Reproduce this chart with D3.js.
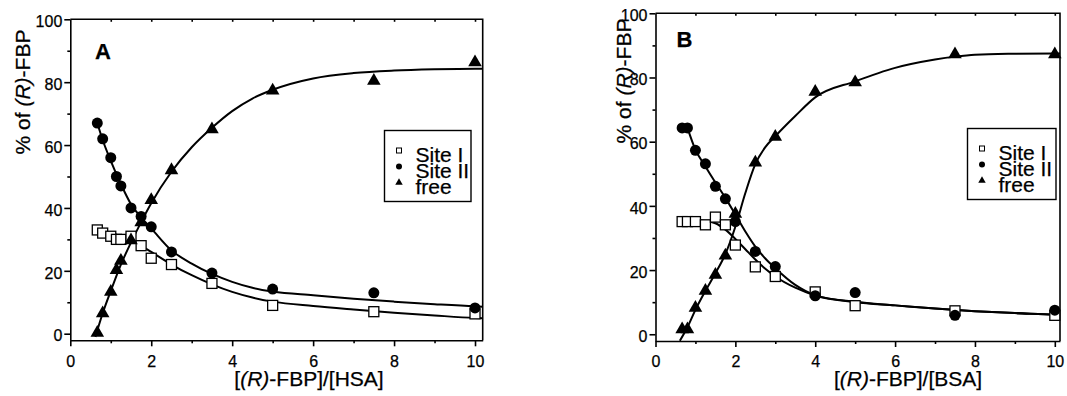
<!DOCTYPE html>
<html>
<head>
<meta charset="utf-8">
<script src="https://cdn.jsdelivr.net/npm/d3@7"></script>
<style>
  body { margin: 0; background: #fff; }
  svg { display: block; font-family: "Liberation Sans", Arial, sans-serif; }
  svg text { stroke: #000; stroke-width: 0.25px; }
</style>
</head>
<body>
<svg width="1067" height="396"></svg>
<script>
// Panel A: HSA
const ratioA = [0.667, 0.8, 1.0, 1.14, 1.25, 1.5, 1.75, 2, 2.5, 3.5, 5, 7.5, 10];
const siteIA = [33, 32, 31, 30, 30, 31, 28, 24, 22, 16, 9, 7, 6.3];
const siteIIA = [67, 62, 56, 50, 47, 40, 37.3, 34, 26, 19.3, 14.2, 13, 8.2];
const freeA = [0.3, 6.5, 13.3, 20.2, 23.2, 29.7, 35.4, 42.5, 52, 65, 77.3, 80.4, 86.3];

// fitted curves, panel A (x, y)
const fitSiteIA = [[0.667, 33.2], [0.8, 32.8], [1, 32.1], [1.25, 31], [1.5, 29.8], [1.75, 28], [2, 26],
  [2.5, 22], [3, 18.6], [3.5, 15.7], [4, 13.3], [4.5, 11.5], [5, 10.2], [6, 8.8], [7, 7.7],
  [8, 6.7], [9, 5.8], [10, 5.0], [10.19, 4.9]];
const fitSiteIIA = [[0.667, 67], [0.8, 61.6], [1, 55], [1.25, 47.6], [1.5, 41.2], [1.75, 37], [2, 33.5],
  [2.5, 26.5], [3, 22.3], [3.5, 19], [4, 16.5], [4.5, 14.6], [5, 13.4], [6, 12.2], [7, 11.1],
  [8, 10.2], [9, 9.4], [10, 8.7], [10.19, 8.6]];
const fitFreeA = [[0.62, -1], [0.8, 6.5], [1, 13.6], [1.25, 22], [1.5, 29], [1.75, 35.5], [2, 41.5],
  [2.5, 51.5], [3, 59.3], [3.5, 65.5], [4, 70.8], [4.5, 74.8], [5, 77.6], [6, 81.2], [7, 82.9],
  [8, 83.7], [9, 84.1], [10, 84.3], [10.19, 84.3]];

// Panel B: BSA
const ratioB = [0.667, 0.8, 1.0, 1.25, 1.5, 1.75, 2, 2.5, 3, 4, 5, 7.5, 10];
const siteIB = [35.1, 35.1, 35.1, 34.1, 36.5, 34.1, 27.8, 21, 18, 13.2, 8.9, 7.3, 5.9];
const siteIIB = [64.3, 64.3, 57.3, 53.1, 46.1, 42.2, 35.1, 25.8, 21.1, 12, 13, 5.9, 7.5];
const freeB = [1.5, 1.5, 8.2, 13.5, 18.5, 24.5, 37.5, 53.5, 61.5, 75.5, 78.5, 87.2, 87.2];

const fitSiteIB = [[0.667, 35.5], [1, 35.5], [1.25, 35.3], [1.5, 34.6], [1.75, 32.6], [2, 29.7],
  [2.25, 26.5], [2.5, 23.3], [2.75, 20.4], [3, 18], [3.5, 14.5], [4, 12.1], [5, 10], [6, 9],
  [7, 8], [8, 7.2], [9, 6.6], [10, 6.1], [10.13, 6.0]];
const fitSiteIIB = [[0.8, 64.3], [1, 57.5], [1.25, 52.3], [1.5, 47.3], [1.75, 42.5], [2, 37.3],
  [2.25, 32], [2.5, 27.3], [2.75, 23.6], [3, 20.6], [3.5, 15.4], [4, 12.2], [5, 10.1], [6, 9],
  [7, 8], [8, 7.2], [9, 6.6], [10, 6.1], [10.13, 6.0]];
const fitFreeB = [[0.61, -2], [0.8, 2.2], [1, 7.6], [1.25, 13.5], [1.5, 19], [1.75, 25], [2, 33.5],
  [2.25, 44], [2.5, 53], [2.75, 58.3], [3, 61.7], [3.5, 68], [4, 73.8], [5, 78.8], [6, 83],
  [7, 85.6], [7.5, 86.5], [8, 87.1], [9, 87.4], [10, 87.5], [10.13, 87.5]];

const xTicks = [0, 2, 4, 6, 8, 10];
const yTicks = [0, 20, 40, 60, 80, 100];
const legendLabels = ["Site I", "Site II", "free"];

const svg = d3.select("svg");

function drawPanel(p) {
  const x = d3.scaleLinear().domain([0, p.xMax]).range([p.left, p.right]);
  const y = d3.scaleLinear().domain([-2.1, 100]).range([p.bottom, p.top]);
  const g = svg.append("g");

  // frame: top and right sides
  g.append("path")
    .attr("d", `M${p.left},${p.top}H${p.right}V${p.bottom}`)
    .attr("fill", "none").attr("stroke", "#000").attr("stroke-width", 1.6);

  // minor ticks
  g.append("g")
    .attr("transform", `translate(0,${p.bottom})`)
    .call(d3.axisBottom(x).tickValues([1, 3, 5, 7, 9]).tickSize(3).tickFormat(""))
    .call(a => a.select(".domain").remove());
  g.append("g")
    .attr("transform", `translate(${p.left},0)`)
    .call(d3.axisLeft(y).tickValues([10, 30, 50, 70, 90]).tickSize(3).tickFormat(""))
    .call(a => a.select(".domain").remove());
  g.append("g")
    .attr("transform", `translate(0,${p.top})`)
    .call(d3.axisTop(x).tickValues(d3.range(1, 11)).tickSize(-2.5).tickFormat(""))
    .call(a => a.select(".domain").remove());

  // main axes
  g.append("g")
    .attr("transform", `translate(0,${p.bottom})`)
    .call(d3.axisBottom(x).tickValues(xTicks).tickSize(6).tickPadding(9).tickSizeOuter(0));
  const yAxis = g.append("g")
    .attr("transform", `translate(${p.left},0)`)
    .call(d3.axisLeft(y).tickValues(yTicks).tickSize(6).tickPadding(2).tickSizeOuter(0));
  yAxis.selectAll(".tick text").attr("dy", "0.45em");

  g.selectAll(".domain, .tick line").attr("stroke", "#000").attr("stroke-width", 1.6);
  g.selectAll(".tick text").attr("fill", "#000").style("font-size", "16px")
    .style("font-family", "'Liberation Sans', Arial, sans-serif");

  // fitted curves
  const line = d3.line().x(d => x(d[0])).y(d => y(d[1])).curve(d3.curveMonotoneX);
  [p.fitI, p.fitII, p.fitFree].forEach(c => {
    g.append("path").datum(c).attr("d", line)
      .attr("fill", "none").attr("stroke", "#000").attr("stroke-width", 2);
  });

  // data markers
  const pts = (vals) => p.ratio.map((r, i) => [r, vals[i]]);
  g.selectAll(".sq").data(pts(p.siteI)).join("rect")
    .attr("x", d => x(d[0]) - 5).attr("y", d => y(d[1]) - 5)
    .attr("width", 10).attr("height", 10)
    .attr("fill", "#fff").attr("stroke", "#000").attr("stroke-width", 1.3);
  g.selectAll(".ci").data(pts(p.siteII)).join("circle")
    .attr("cx", d => x(d[0])).attr("cy", d => y(d[1])).attr("r", 5.5)
    .attr("fill", "#000");
  g.selectAll(".tr").data(pts(p.free)).join("path")
    .attr("transform", d => `translate(${x(d[0])},${y(d[1])})`)
    .attr("d", d3.symbol(d3.symbolTriangle, 80))
    .attr("fill", "#000");

  // axis titles
  const xt = g.append("text")
    .attr("x", p.xTitleX).attr("y", 386)
    .attr("text-anchor", "middle").style("font-size", "21px");
  xt.append("tspan").text("[");
  xt.append("tspan").text("(R)").style("font-style", "italic");
  xt.append("tspan").text(`-FBP]/[${p.protein}]`);

  const yt = g.append("text")
    .attr("transform", `translate(${p.yTitleX},${p.yTitleY}) rotate(-90)`)
    .attr("text-anchor", "middle").style("font-size", "21px");
  yt.append("tspan").text("% of ");
  yt.append("tspan").text("(R)").style("font-style", "italic");
  yt.append("tspan").text("-FBP");

  // panel letter
  g.append("text")
    .attr("x", p.letterX).attr("y", p.letterY)
    .style("font-size", "22px").style("font-weight", "bold")
    .text(p.letter);

  // legend
  const lg = g.append("g").attr("transform", `translate(${p.legX},${p.legY})`);
  lg.append("rect").attr("width", p.legW).attr("height", 71)
    .attr("fill", "#fff").attr("stroke", "#000").attr("stroke-width", 1.4);
  legendLabels.forEach((lab, i) => {
    const yy = 20 + i * 16;
    if (i === 0) {
      lg.append("rect").attr("x", 12).attr("y", yy - 2.5).attr("width", 5).attr("height", 5)
        .attr("fill", "#fff").attr("stroke", "#000").attr("stroke-width", 1);
    } else if (i === 1) {
      lg.append("circle").attr("cx", 14.5).attr("cy", yy).attr("r", 3).attr("fill", "#000");
    } else {
      lg.append("path").attr("transform", `translate(14.5,${yy})`)
        .attr("d", d3.symbol(d3.symbolTriangle, 24)).attr("fill", "#000");
    }
    lg.append("text").attr("x", 31).attr("y", yy + 11)
      .style("font-size", "21px").text(lab);
  });
}

drawPanel({
  left: 70.3, right: 482.7, top: 19.3, bottom: 340.3, xMax: 10.19,
  ratio: ratioA, siteI: siteIA, siteII: siteIIA, free: freeA,
  fitI: fitSiteIA, fitII: fitSiteIIA, fitFree: fitFreeA,
  protein: "HSA", xTitleX: 309, yTitleX: 30, yTitleY: 92,
  letter: "A", letterX: 95, letterY: 58.5,
  legX: 384.5, legY: 130.5, legW: 86.5
});

drawPanel({
  left: 655.5, right: 1060, top: 13.3, bottom: 341, xMax: 10.13,
  ratio: ratioB, siteI: siteIB, siteII: siteIIB, free: freeB,
  fitI: fitSiteIB, fitII: fitSiteIIB, fitFree: fitFreeB,
  protein: "BSA", xTitleX: 908, yTitleX: 630.5, yTitleY: 81,
  letter: "B", letterX: 676.5, letterY: 46.7,
  legX: 967.5, legY: 128.5, legW: 88.5
});
</script>
</body>
</html>
